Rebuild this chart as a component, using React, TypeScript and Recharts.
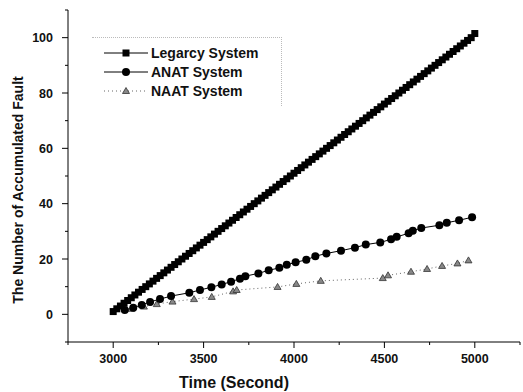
import { LineChart, Line, XAxis, YAxis, Legend, Label } from 'recharts'

const X_TICKS = [2750, 3000, 3250, 3500, 3750, 4000, 4250, 4500, 4750, 5000, 5250]
const X_LABELS = [3000, 3500, 4000, 4500, 5000]
const Y_TICKS = [-10, 0, 10, 20, 30, 40, 50, 60, 70, 80, 90, 100, 110]
const Y_LABELS = [0, 20, 40, 60, 80, 100]

// Legarcy system: one fault roughly every 20 s
const legacyTime = [
  3000, 3020, 3040, 3060, 3080, 3100, 3120, 3140, 3160, 3180,
  3200, 3220, 3240, 3260, 3280, 3300, 3320, 3340, 3360, 3380,
  3400, 3420, 3440, 3460, 3480, 3500, 3520, 3540, 3560, 3580,
  3600, 3620, 3640, 3660, 3680, 3700, 3720, 3740, 3760, 3780,
  3800, 3820, 3840, 3860, 3880, 3900, 3920, 3940, 3960, 3980,
  4000, 4020, 4040, 4060, 4080, 4100, 4120, 4140, 4160, 4180,
  4200, 4220, 4240, 4260, 4280, 4300, 4320, 4340, 4360, 4380,
  4400, 4420, 4440, 4460, 4480, 4500, 4520, 4540, 4560, 4580,
  4600, 4620, 4640, 4660, 4680, 4700, 4720, 4740, 4760, 4780,
  4800, 4820, 4840, 4860, 4880, 4900, 4920, 4940, 4960, 4980,
  5000,
]
const legacyFault = [
  1, 2, 3, 4, 5, 6, 7, 8, 9, 10,
  11, 12, 13, 14, 15, 16, 17, 18, 19, 20,
  21, 22, 23, 24, 25, 26, 27, 28, 29, 30,
  31, 32, 33, 34, 35, 36, 37, 38, 39, 40,
  41, 42, 43, 44, 45, 46, 47, 48, 49, 50,
  51, 52, 53, 54, 55, 56, 57, 58, 59, 60,
  61, 62, 63, 64, 65, 66, 67, 68, 69, 70,
  71, 72, 73, 74, 75, 76, 77, 78, 79, 80,
  81, 82, 83, 84, 85, 86, 87, 88, 89, 90,
  91, 92, 93, 94, 95, 96, 97, 98, 99, 100,
  101.5,
]

const anatTime = [
  3064, 3111, 3158, 3204, 3259, 3320, 3421, 3480, 3543, 3600,
  3652, 3701, 3731, 3803, 3860, 3919, 3960, 4009, 4068, 4118,
  4179, 4260, 4337, 4397, 4477, 4537, 4568, 4634, 4657, 4704,
  4804, 4845, 4913, 4985,
]
const anatFault = [
  1.6, 2.4, 3.4, 4.5, 5.5, 6.6, 7.8, 8.8, 9.8, 10.8,
  11.8, 12.9, 13.8, 14.8, 15.9, 16.8, 17.9, 18.8, 19.7, 21.0,
  22.0, 23.0, 24.1, 25.2, 26.0, 27.1, 28.0, 29.3, 30.2, 31.2,
  32.2, 33.1, 34.0, 35.1,
]

const naatTime = [
  3100, 3170, 3241, 3328, 3447, 3545, 3663, 3683, 3909, 4013,
  4148, 4491, 4520, 4647, 4736, 4819, 4904, 4965,
]
const naatFault = [
  2.0, 2.8, 3.7, 4.6, 5.5, 6.3, 8.3, 8.8, 9.9, 11.0,
  12.1, 13.1, 14.1, 15.4, 16.4, 17.5, 18.4, 19.5,
]

const toRows = (t: number[], v: number[]) => t.map((time, i) => ({ time, fault: v[i] }))
const legacyRows = toRows(legacyTime, legacyFault)
const anatRows = toRows(anatTime, anatFault)
const naatRows = toRows(naatTime, naatFault)

const FONT = '"Liberation Sans", Arial, sans-serif'

const Square = (p: any) => (
  <rect key={`sq-${p.index}`} x={p.cx - 3.5} y={p.cy - 3.5} width={7} height={7} fill="#000" />
)
const Circle = (p: any) => (
  <circle key={`ci-${p.index}`} cx={p.cx} cy={p.cy} r={4} fill="#000" />
)
const Triangle = (p: any) => (
  <path
    key={`tr-${p.index}`}
    d={`M${p.cx},${p.cy - 3.5}L${p.cx + 3.5},${p.cy + 2.5}L${p.cx - 3.5},${p.cy + 2.5}Z`}
    fill="#888"
    stroke="#333"
    strokeWidth={0.8}
  />
)

function XTick({ x, y, payload }: any) {
  const major = X_LABELS.includes(payload.value)
  return (
    <g>
      <line x1={x} x2={x} y1={y} y2={y + (major ? 6 : 3)} stroke="#000" />
      {major && (
        <text x={x} y={y + 21} textAnchor="middle" fontSize={12.5} fontWeight="bold" fontFamily={FONT} fill="#111">
          {payload.value}
        </text>
      )}
    </g>
  )
}

function YTick({ x, y, payload }: any) {
  const major = Y_LABELS.includes(payload.value)
  return (
    <g>
      <line x1={x} x2={x - (major ? 6 : 3)} y1={y} y2={y} stroke="#000" />
      {major && (
        <text x={x - 15} y={y + 4.5} textAnchor="end" fontSize={12.5} fontWeight="bold" fontFamily={FONT} fill="#111">
          {payload.value}
        </text>
      )}
    </g>
  )
}

const LEGEND_ITEMS = [
  { name: 'Legarcy System', marker: 'square', dash: undefined, color: '#000' },
  { name: 'ANAT System', marker: 'circle', dash: undefined, color: '#000' },
  { name: 'NAAT System', marker: 'triangle', dash: '1 3', color: '#666' },
]

function LegendBox() {
  return (
    <div
      style={{
        width: 190, height: 69, boxSizing: 'border-box',
        borderTop: '1px dotted #bbb', borderRight: '1px dotted #bbb',
        paddingTop: 5.5, fontFamily: FONT,
      }}
    >
      {LEGEND_ITEMS.map((it) => (
        <div key={it.name} style={{ display: 'flex', alignItems: 'center', height: 19 }}>
          <svg width={58} height={12} style={{ marginLeft: 11 }}>
            <line x1={1} x2={45} y1={6} y2={6} stroke={it.color} strokeDasharray={it.dash} />
            {it.marker === 'square' && <rect x={19.5} y={2.5} width={7} height={7} fill="#000" />}
            {it.marker === 'circle' && <circle cx={23} cy={6} r={4} fill="#000" />}
            {it.marker === 'triangle' && (
              <path d="M23,2.5L26.5,8.5L19.5,8.5Z" fill="#888" stroke="#333" strokeWidth={0.8} />
            )}
          </svg>
          <span style={{ fontSize: 14, fontWeight: 'bold', color: '#111', marginLeft: -10 }}>{it.name}</span>
        </div>
      ))}
    </div>
  )
}

export default function App() {
  return (
    <div style={{ position: 'absolute', left: 0, top: 0, width: 523, height: 392, background: '#fff' }}>
      <LineChart width={523} height={392} margin={{ top: 10, right: 3, bottom: 20, left: 0 }}>
        <XAxis
          type="number"
          dataKey="time"
          domain={[2750, 5250]}
          ticks={X_TICKS}
          interval={0}
          height={30}
          tickSize={0}
          tickMargin={0}
          tickLine={false}
          axisLine={{ stroke: '#000' }}
          tick={<XTick />}
        >
          <Label
            content={() => (
              <text x={234} y={388} textAnchor="middle" fontSize={16} fontWeight="bold" fontFamily={FONT} fill="#111">
                Time (Second)
              </text>
            )}
          />
        </XAxis>
        <YAxis
          type="number"
          domain={[-10, 110]}
          ticks={Y_TICKS}
          interval={0}
          width={68}
          tickSize={0}
          tickMargin={0}
          tickLine={false}
          axisLine={{ stroke: '#000' }}
          tick={<YTick />}
        >
          <Label
            content={() => (
              <text
                x={17.5}
                y={190}
                transform="rotate(-90 17.5 190)"
                textAnchor="middle"
                dominantBaseline="central"
                fontSize={14}
                fontWeight="bold"
                fontFamily={FONT}
                fill="#111"
              >
                The Number of Accumulated Fault
              </text>
            )}
          />
        </YAxis>
        <Legend
          layout="vertical"
          align="center"
          verticalAlign="middle"
          wrapperStyle={{ left: 92, top: 37, width: 190, height: 69 }}
          content={() => <LegendBox />}
        />
        <Line
          data={naatRows}
          dataKey="fault"
          name="NAAT System"
          stroke="#666"
          strokeWidth={1}
          strokeDasharray="1 3"
          dot={Triangle}
          isAnimationActive={false}
        />
        <Line
          data={anatRows}
          dataKey="fault"
          name="ANAT System"
          stroke="#000"
          strokeWidth={1}
          dot={Circle}
          isAnimationActive={false}
        />
        <Line
          data={legacyRows}
          dataKey="fault"
          name="Legarcy System"
          stroke="#000"
          strokeWidth={1}
          dot={Square}
          isAnimationActive={false}
        />
      </LineChart>
    </div>
  )
}
